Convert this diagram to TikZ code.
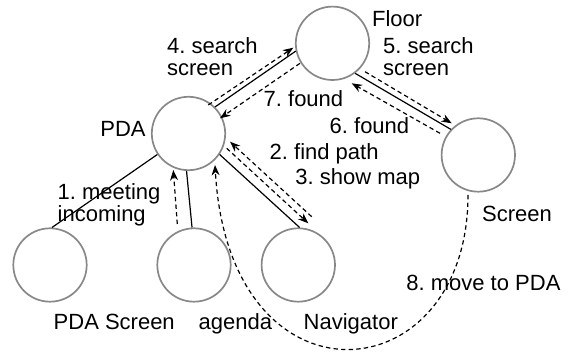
\documentclass[tikz,border=0pt]{standalone}
\usepackage{fontspec}
\setmainfont{Liberation Sans}
\usetikzlibrary{arrows.meta,calc}
\definecolor{ringgray}{RGB}{136,136,136}
\frenchspacing
\begin{document}
\begin{tikzpicture}[x=0.5pt,y=0.5pt,
  state/.style={circle,draw=ringgray,line width=0.85pt,minimum size=36.7pt,inner sep=0pt},
  conn/.style={line width=0.6pt},
  msg/.style={line width=0.6pt,dash pattern=on 2.2pt off 1.6pt,-{Stealth[length=5.2pt,width=4pt]}},
  lbl/.style={font=\fontsize{11}{11}\selectfont\frenchspacing,inner sep=0pt}]
\useasboundingbox (0,0) rectangle (575,353);
% states
\node[state] (floor) at (332.5,309.7) {};
\node[state] (pda) at (188.5,219.5) {};
\node[state] (scr) at (478.3,198) {};
\node[state] (pdas) at (50,88) {};
\node[state] (agenda) at (194,88) {};
\node[state] (nav) at (298.3,88) {};
% PDA -- Floor
\draw[conn] (pda.45) -- (floor.192);
\draw[msg] ($(pda)+(19.8,28.5)$) -- ($(floor)+(-39.2,-4.4)$);
\draw[msg] ($(floor)+(-32.5,-20)$) -- ($(pda)+(31.5,15.2)$);
% Floor -- Screen
\draw[conn] (floor.-53) -- (scr.137);
\draw[msg] ($(floor)+(32.5,-28.4)$) -- ($(scr)+(-26.6,31.7)$);
\draw[msg] ($(scr)+(-38.3,21.7)$) -- ($(floor)+(19.2,-40)$);
% PDA -- PDA Screen
\draw[conn] (pda.214) -- (pdas.87);
% PDA -- agenda
\draw[conn] (pda.-93) -- (agenda.93);
\draw[msg] ($(agenda)+(-16.7,41)$) -- ($(pda)+(-15.2,-36.5)$);
% PDA -- Navigator
\draw[conn] (pda.-34) -- (nav.88);
\draw[msg] ($(pda)+(38.2,-14.8)$) -- ($(nav)+(10,41.7)$);
\draw[msg] ($(nav)+(13.4,48.3)$) -- ($(pda)+(41.5,-8.2)$);
% Screen -> PDA
\draw[msg] ($(scr)+(-10.3,-40)$) .. controls +(0,-200) and +(14,-250) .. ($(pda)+(26.5,-31.5)$);
% labels
\node[lbl,anchor=base west] (lfloor) at (371.7,326.3) {Floor};
\node[lbl,anchor=north west,align=left] (l4) at (166.7,315.4) {4. search\\screen};
\node[lbl,anchor=north west,align=left] (l5) at (382.7,315.4) {5. search\\screen};
\node[lbl,anchor=base west] (l7) at (263.3,246.3) {7. found};
\node[lbl,anchor=base west] (l6) at (329.3,219.7) {6. found};
\node[lbl,anchor=base west] (l2) at (269.3,193) {2. find path};
\node[lbl,anchor=base west] (l3) at (295,168) {3. show map};
\node[lbl,anchor=base east] (lpda) at (146,216.3) {PDA};
\node[lbl,anchor=north west,align=left] (l1) at (57.3,169.4) {1. meeting\\incoming};
\node[lbl,anchor=base west] (lscr) at (481.7,131.3) {Screen};
\node[lbl,anchor=base west] (l8) at (406,62.3) {8. move to PDA};
\node[lbl,anchor=base west] (lpdas) at (53.3,23) {PDA Screen};
\node[lbl,anchor=base west] (lag) at (198.3,23) {agenda};
\node[lbl,anchor=base west] (lnav) at (303.3,23.7) {Navigator};
\end{tikzpicture}
\end{document}
